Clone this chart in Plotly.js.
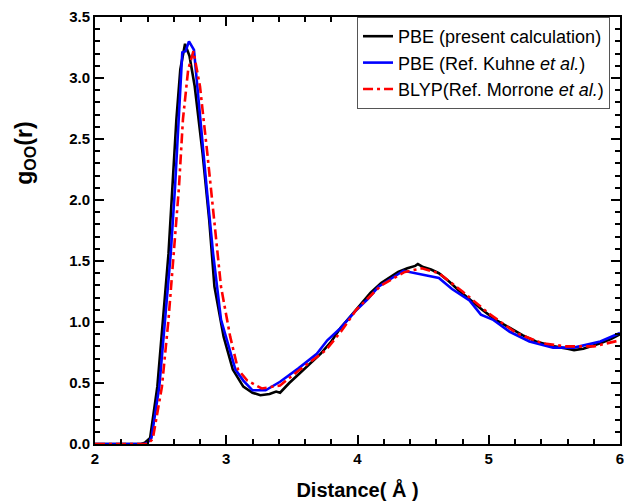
<!DOCTYPE html>
<html><head><meta charset="utf-8">
<script src="https://cdn.plot.ly/plotly-3.0.1.min.js"></script>
<style>html,body{margin:0;padding:0;background:#fff}</style>
</head><body>
<div id="chart" style="width:624px;height:501px"></div>
<script>
// PBE (present calculation)
const pbeR = [2.0, 2.2, 2.35, 2.38, 2.42, 2.475, 2.52, 2.56, 2.59, 2.62, 2.65, 2.686, 2.72, 2.76, 2.82, 2.87, 2.91, 2.98, 3.05, 3.13, 3.2, 3.26, 3.33, 3.38, 3.41, 3.48, 3.56, 3.64, 3.72, 3.8, 3.87, 3.95, 4.03, 4.1, 4.18, 4.25, 4.31, 4.38, 4.44, 4.46, 4.5, 4.56, 4.62, 4.7, 4.77, 4.85, 4.95, 5.05, 5.16, 5.26, 5.36, 5.5, 5.6, 5.65, 5.72, 5.85, 5.93, 6.0];
const pbeG = [0.0, 0.0, 0.0, 0.01, 0.05, 0.47, 1.02, 1.56, 2.11, 2.66, 3.07, 3.28, 3.18, 2.93, 2.38, 1.84, 1.29, 0.88, 0.61, 0.47, 0.42, 0.40, 0.41, 0.43, 0.42, 0.50, 0.58, 0.66, 0.74, 0.84, 0.95, 1.05, 1.15, 1.24, 1.32, 1.37, 1.41, 1.44, 1.46, 1.475, 1.45, 1.43, 1.40, 1.33, 1.26, 1.19, 1.10, 1.02, 0.95, 0.89, 0.84, 0.80, 0.78, 0.77, 0.78, 0.825, 0.86, 0.90];
// PBE (Ref. Kuhne et al.)
const kuhR = [2.0, 2.2, 2.38, 2.40, 2.43, 2.49, 2.533, 2.577, 2.61, 2.635, 2.665, 2.69, 2.716, 2.754, 2.80, 2.85, 2.90, 2.96, 3.07, 3.13, 3.2, 3.3, 3.41, 3.55, 3.69, 3.77, 3.87, 3.98, 4.08, 4.16, 4.35, 4.5, 4.62, 4.72, 4.85, 4.94, 5.03, 5.16, 5.31, 5.49, 5.65, 5.85, 6.0];
const kuhG = [0.0, 0.0, 0.0, 0.01, 0.05, 0.47, 1.02, 1.56, 2.11, 2.66, 3.21, 3.22, 3.30, 3.23, 2.66, 2.11, 1.56, 1.02, 0.61, 0.52, 0.44, 0.44, 0.51, 0.62, 0.74, 0.85, 0.95, 1.085, 1.19, 1.29, 1.42, 1.39, 1.36, 1.27, 1.18, 1.06, 1.02, 0.92, 0.84, 0.79, 0.79, 0.84, 0.91];
// BLYP (Ref. Morrone et al.)
const blyR = [2.0, 2.2, 2.4, 2.44, 2.51, 2.56, 2.60, 2.64, 2.67, 2.71, 2.75, 2.80, 2.856, 2.91, 2.96, 3.03, 3.09, 3.16, 3.27, 3.41, 3.55, 3.76, 3.88, 3.99, 4.1, 4.18, 4.36, 4.49, 4.62, 4.8, 5.0, 5.21, 5.41, 5.59, 5.8, 6.0];
const blyG = [0.0, 0.0, 0.0, 0.04, 0.47, 1.02, 1.56, 2.11, 2.66, 3.07, 3.22, 2.93, 2.38, 1.84, 1.29, 0.88, 0.61, 0.52, 0.455, 0.48, 0.60, 0.77, 0.93, 1.10, 1.22, 1.30, 1.41, 1.44, 1.40, 1.25, 1.07, 0.91, 0.825, 0.80, 0.80, 0.85];
const xMajor = [2, 3, 4, 5, 6];
const yMajor = [0, 0.5, 1.0, 1.5, 2.0, 2.5, 3.0, 3.5];

const traces = [
  {x: pbeR, y: pbeG, mode: 'lines', name: 'PBE (present calculation)',
   line: {color: '#000000', width: 2.6}},
  {x: kuhR, y: kuhG, mode: 'lines', name: 'PBE (Ref. Kuhne <i>et al.</i>)',
   line: {color: '#0000ff', width: 2.6}},
  {x: blyR, y: blyG, mode: 'lines', name: 'BLYP(Ref. Morrone <i>et al.</i>)',
   line: {color: '#ff0000', width: 2.6, dash: '10px,4px,3px,4px'}}
];

const FF = 'Liberation Sans, Arial, sans-serif';
const tf = {family: FF, size: 15, color: '#000', weight: 'bold'};
const layout = {
  width: 624, height: 501,
  margin: {l: 95, r: 4, t: 17, b: 57},
  showlegend: true,
  legend: {x: 0.981, y: 1.0, xanchor: 'right', yanchor: 'top',
    bgcolor: '#fff', bordercolor: '#555', borderwidth: 1,
    font: {family: FF, size: 18, color: '#000'}, tracegroupgap: 0},
  xaxis: {range: [2, 6], tickvals: xMajor, ticks: 'inside', ticklen: 9, tickwidth: 2, tickcolor: '#000',
    minor: {dtick: 0.2, ticks: 'inside', ticklen: 5, tickwidth: 2, tickcolor: '#000'},
    showline: true, linewidth: 2, linecolor: '#000', mirror: 'ticks',
    tickfont: tf, showgrid: false, zeroline: false, ticklabeloverflow: 'allow',
    title: {text: 'Distance( Å )', font: {family: FF, size: 20, color: '#000', weight: 'bold'}}},
  yaxis: {range: [0, 3.5], tickvals: yMajor, tickformat: '.1f', ticks: 'inside', ticklen: 9, tickwidth: 2, tickcolor: '#000',
    minor: {dtick: 0.1, ticks: 'inside', ticklen: 5, tickwidth: 2, tickcolor: '#000'},
    showline: true, linewidth: 2, linecolor: '#000', mirror: 'ticks',
    tickfont: tf, showgrid: false, zeroline: false},
  annotations: [{text: 'g<sub>OO</sub>(r)', xref: 'paper', yref: 'paper', x: -0.133, y: 0.68,
    xanchor: 'center', yanchor: 'middle', textangle: -90, showarrow: false,
    font: {family: FF, size: 23, color: '#000', weight: 'bold'}}]
};
Plotly.newPlot('chart', traces, layout, {staticPlot: true});
</script>
</body></html>
